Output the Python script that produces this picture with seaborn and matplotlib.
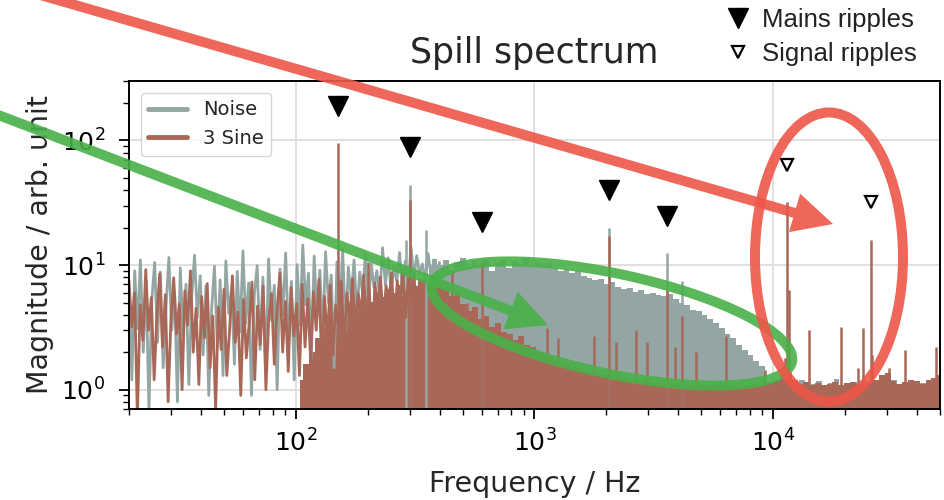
import numpy as np
import pandas as pd
import seaborn as sns
import matplotlib
matplotlib.use("Agg")
import matplotlib.pyplot as plt
from matplotlib.lines import Line2D
from matplotlib.patches import Ellipse, FancyArrow
from matplotlib.transforms import IdentityTransform

# ---------------------------------------------------------------- data
# Low-frequency part of each spectrum (log-spaced samples)
noise_low_range = (20, 400)
noise_low = [
    6.5, 1.2, 9.0, 3.1, 11.0, 2.0, 7.5, 0.7, 5.2, 10.5,
    2.4, 8.8, 1.5, 4.6, 11.5, 3.0, 6.1, 0.8, 9.5, 2.7,
    7.0, 1.1, 5.5, 12.0, 3.8, 8.2, 1.9, 6.8, 0.9, 4.4,
    9.8, 2.2, 7.6, 1.3, 10.8, 4.1, 6.5, 1.6, 8.9, 2.9,
    13.0, 3.4, 7.2, 0.9, 5.8, 9.9, 2.1, 8.0, 1.4, 11.2,
    3.6, 6.9, 1.0, 9.3, 4.0, 12.5, 2.5, 7.4, 1.2, 10.1,
    3.3, 14.5, 4.8, 8.6, 1.8, 11.8, 3.9, 9.1, 2.6, 12.8,
    5.0, 8.3, 1.5, 10.6, 4.3, 13.5, 2.9, 9.6, 5.4, 11.0,
    4.1, 8.8, 6.0, 12.2, 4.4, 10.3, 6.6, 9.0, 5.5, 13.8,
    6.9, 11.4, 6.2, 9.7, 7.4, 12.6, 5.8, 10.8, 7.1, 14.0,
    7.8, 11.9, 8.5, 10.2, 7.6, 12.4, 8.1, 11.0, 8.0, 10.5,
]
sine_low_range = (20, 330)
sine_low = [
    7.5, 3.2, 6.0, 0.6, 4.8, 2.5, 9.2, 3.0, 5.5, 1.2,
    4.0, 8.5, 2.2, 5.8, 0.8, 3.6, 7.9, 2.8, 4.9, 1.0,
    6.2, 3.3, 9.0, 2.0, 4.5, 1.1, 5.6, 2.6, 7.1, 1.5,
    3.9, 0.7, 4.6, 2.1, 6.4, 1.3, 3.0, 8.2, 2.4, 4.2,
    0.9, 5.3, 1.8, 3.4, 7.3, 1.2, 4.7, 2.3, 6.8, 1.0,
    3.7, 5.9, 1.6, 4.4, 8.6, 2.0, 5.1, 1.4, 6.6, 2.7,
    4.9, 1.3, 7.0, 2.2, 5.4, 1.7, 6.1, 3.0, 7.7, 1.5,
    5.6, 2.5, 6.9, 1.9, 4.8, 3.2, 7.4, 2.1, 6.0, 3.6,
    7.8, 2.8, 5.9, 4.0, 8.3, 3.1, 6.5, 1.8, 7.2, 4.4,
    8.0, 3.5, 6.8, 5.0, 8.7, 2.9, 7.5, 4.6, 9.1, 3.8,
    7.9, 5.2, 8.4, 4.1, 7.6,
]

# Upper envelope of the dense part of each spectrum (log-spaced samples)
noise_env_range = (360, 50000)
noise_env = [
    9.8, 11.2, 10.0, 10.9, 9.2, 10.6, 11.5, 9.6, 10.8, 10.1,
    11.0, 9.0, 10.4, 10.9, 9.5, 10.7, 10.2, 11.3, 9.8, 10.5,
    9.9, 10.3, 9.4, 8.9, 9.3, 8.6, 8.9, 8.2, 7.9, 7.6,
    7.8, 7.1, 7.3, 6.7, 6.4, 6.6, 6.1, 6.3, 5.9, 6.0,
    5.8, 5.6, 5.9, 5.3, 5.0, 4.8, 4.4, 4.3, 4.0, 3.7,
    3.4, 3.1, 2.8, 2.6, 2.3, 2.1, 1.9, 1.7, 1.55, 1.12,
    1.1, 1.08, 1.12, 1.1, 1.15, 1.2, 1.1, 1.12, 1.18, 1.1,
    1.14, 1.22, 1.1, 1.12, 1.16, 1.1, 1.18, 1.12, 1.14, 1.1,
    1.12, 1.2, 1.1, 1.15, 1.12, 1.1, 1.14, 1.18, 1.12, 1.1,
]
sine_env_range = (104.5, 50000)
sine_env = [
    1.2, 1.6, 2.0, 2.6, 3.2, 3.8,
    4.2, 4.8, 4.4, 5.2, 4.9, 5.6, 5.1, 6.0, 5.5, 6.4,
    6.0, 6.9, 6.3, 7.2, 6.8,
    7.8, 7.2, 8.0, 6.9, 6.5, 5.6, 6.0, 4.9, 4.3, 4.6,
    3.7, 3.9, 3.2, 3.4, 2.9, 2.8, 2.5, 2.7, 2.3, 2.2,
    2.0, 1.9, 1.85, 1.7, 1.65, 1.6, 1.5, 1.5, 1.42, 1.38,
    1.35, 1.3, 1.32, 1.25, 1.24, 1.22, 1.2, 1.18, 1.17, 1.15,
    1.13, 1.12, 1.12, 1.11, 1.1, 1.1, 1.1, 1.09, 1.1, 1.08,
    1.09, 1.08, 1.08, 1.07, 1.08, 1.08, 1.1, 1.12, 1.1, 1.15,
    1.15, 1.2, 1.3, 1.35, 1.2, 1.12, 1.15, 1.1, 1.14, 1.1,
    1.12, 1.15, 1.1, 1.13, 1.16, 1.12, 1.1, 1.15, 1.2, 1.3,
    1.35, 1.18, 1.12, 1.15, 1.2, 1.17, 1.12, 1.2, 1.25, 1.3,
]

# Narrow spectral lines (frequency in Hz, magnitude)
noise_peak_f = [290, 300, 350, 600, 2050, 3600, 4150]
noise_peak = [16, 44, 19, 11, 20, 12.4, 7.4]
sine_peak_f = [150, 200, 300, 450, 520, 560, 600, 1130, 1250, 1780, 2050,
               2200, 2660, 2970, 3600, 3890, 4150, 4750, 6330, 9240, 11200,
               11400, 11700, 14150, 19200, 22600, 23700, 25600, 25900, 30600,
               35700, 48000]
sine_peak = [95, 10.5, 33, 9.0, 5.0, 4.3, 10.6, 3.1, 2.6, 2.7, 17,
             2.4, 3.0, 2.4, 6.3, 2.2, 3.9, 2.0, 2.7, 1.45, 1.8,
             32, 6.3, 3.0, 3.2, 1.5, 3.1, 16, 1.9, 1.5,
             2.1, 2.2]

mains_f = [150, 300, 600, 2050, 3600]
signal_f = [11400, 25600]

# ---------------------------------------------------------------- style
NOISE = "#94a6a3"
SINE = "#a96757"
RED = "#ee5648"
GREEN = "#48b148"

sns.set_theme(style="ticks")
plt.rcParams["font.family"] = ["DejaVu Sans"]
plt.rcParams.update({
    "axes.edgecolor": "black",
    "axes.linewidth": 1.4,
    "xtick.color": "black",
    "ytick.color": "black",
    "xtick.major.size": 7, "ytick.major.size": 7,
    "xtick.minor.size": 4, "ytick.minor.size": 4,
    "xtick.major.width": 1.3, "ytick.major.width": 1.3,
    "xtick.minor.width": 1.0, "ytick.minor.width": 1.0,
})

W, H = 945, 500
fig = plt.figure(figsize=(W / 100, H / 100), dpi=100)
ax = fig.add_axes([129 / W, 91 / H, 811 / W, 328 / H])
ax.set_xscale("log")
ax.set_yscale("log")


def draw_spectrum(low_range, low, env_range, env, pk_f, pk, color):
    env_f = np.geomspace(*env_range, len(env))
    ax.fill_between(env_f, 0.1, env, step="mid", color=color, lw=0)
    df = pd.DataFrame({"freq": np.geomspace(*low_range, len(low)), "mag": low})
    sns.lineplot(data=df, x="freq", y="mag", ax=ax, color=color, lw=2.0,
                 estimator=None)
    ax.vlines(pk_f, 0.1, pk, color=color, lw=1.8)


draw_spectrum(noise_low_range, noise_low, noise_env_range, noise_env,
              noise_peak_f, noise_peak, NOISE)
draw_spectrum(sine_low_range, sine_low, sine_env_range, sine_env,
              sine_peak_f, sine_peak, SINE)

# markers sit at twice the strongest line at each ripple frequency
lines = {}
for f, h in zip(noise_peak_f + sine_peak_f, noise_peak + sine_peak):
    lines[f] = max(lines.get(f, 0), h)
ax.plot(mains_f, [2 * lines[f] for f in mains_f], "v", ms=14.5, color="black",
        ls="none", clip_on=False, zorder=5)
ax.plot(signal_f, [2 * lines[f] for f in signal_f], "v", ms=8, mfc="white",
        mec="black", mew=1.6, ls="none", clip_on=False, zorder=5)

ax.set_xlim(20, 50000)
ax.set_ylim(0.7, 300)
ax.grid(True, which="major", color="#dddddd", lw=1.3)
ax.set_axisbelow(True)
ax.tick_params(which="both", direction="out", top=False, right=False)
ax.tick_params(axis="x", which="major", labelsize=18, pad=7.5)
ax.tick_params(axis="y", which="major", labelsize=18, pad=10)
for s in ax.spines.values():
    s.set_visible(True)
    s.set_color("black")

ax.set_title("Spill spectrum", fontsize=25, pad=13)
ax.set_xlabel("Frequency / Hz", fontsize=20.5, labelpad=10)
ax.set_ylabel("Magnitude / arb. unit", fontsize=20.5, labelpad=5)

ax.legend(handles=[Line2D([], [], color=NOISE, lw=3.5),
                   Line2D([], [], color=SINE, lw=3.5)],
          labels=["Noise", "3 Sine"], loc="upper left", fontsize=14,
          frameon=True, handlelength=2.0, borderaxespad=0.6)

fig.legend(handles=[Line2D([], [], marker="v", ms=14.5, color="black", ls="none"),
                    Line2D([], [], marker="v", ms=8, mfc="white", mec="black",
                           mew=1.6, ls="none")],
           labels=["Mains ripples", "Signal ripples"],
           loc="upper left", bbox_to_anchor=(725 / W, 1 - 8 / H),
           frameon=False, handlelength=1.0, handletextpad=0.44,
           labelspacing=0.4, borderpad=0, borderaxespad=0,
           prop={"family": "Liberation Sans", "size": 18.5},
           labelcolor="#222222")

# hand-drawn highlights in pixel coordinates (y measured from the top)
ident = IdentityTransform()


def arrow(x0, y0, x1, y1, color):
    a = FancyArrow(x0, H - y0, x1 - x0, -(y1 - y0), width=10, head_width=40,
                   head_length=40, length_includes_head=True, color=color,
                   alpha=0.9, lw=0, transform=ident)
    fig.add_artist(a)


def ring(cx, cy, w, h, angle, color):
    e = Ellipse((cx, H - cy), w, h, angle=angle, fill=False, lw=7.2,
                ec=color, alpha=0.9, transform=ident)
    fig.add_artist(e)


arrow(-20, 108, 548, 325, GREEN)
ring(612, 323.5, 368, 100, -12, GREEN)
ring(829, 257, 148, 289, 0, RED)
arrow(30, -8, 833, 224, RED)

fig.savefig("out.png", dpi=100)
